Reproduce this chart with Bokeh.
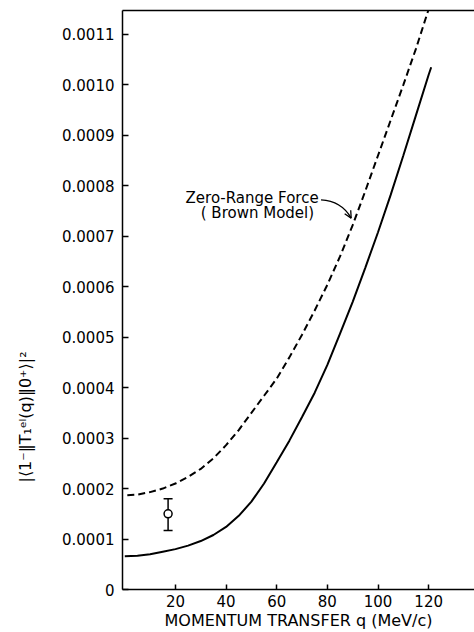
import math
from bokeh.plotting import figure
from bokeh.models import (FixedTicker, LinearAxis, Range1d, Arrow, OpenHead,
                          Whisker, TeeHead, ColumnDataSource)
from bokeh.embed import file_html
from bokeh.resources import INLINE

# ---- data ----
q_solid = [0, 5, 10, 15, 20, 25, 30, 35, 40, 45, 50, 55, 60, 65, 70, 75, 80, 85, 90, 95, 100, 105, 110, 115, 120, 121]
f_solid = [0.66e-4, 0.67e-4, 0.70e-4, 0.75e-4, 0.80e-4, 0.87e-4, 0.96e-4, 1.08e-4, 1.24e-4, 1.46e-4, 1.74e-4,
           2.10e-4, 2.52e-4, 2.95e-4, 3.42e-4, 3.90e-4, 4.45e-4, 5.07e-4, 5.70e-4, 6.38e-4, 7.08e-4, 7.82e-4,
           8.60e-4, 9.40e-4, 10.20e-4, 10.35e-4]

q_dash = [1, 5, 10, 15, 20, 25, 30, 35, 40, 45, 50, 55, 60, 65, 70, 75, 80, 85, 90, 95, 100, 105, 110, 115, 119.8]
f_dash = [1.87e-4, 1.88e-4, 1.93e-4, 2.00e-4, 2.10e-4, 2.23e-4, 2.39e-4, 2.60e-4, 2.86e-4, 3.16e-4, 3.50e-4,
          3.84e-4, 4.18e-4, 4.60e-4, 5.05e-4, 5.53e-4, 6.04e-4, 6.60e-4, 7.22e-4, 7.90e-4, 8.60e-4, 9.30e-4,
          10.00e-4, 10.72e-4, 11.47e-4]

q_exp = [17.1]
f_exp = [1.50e-4]
f_exp_lo = [1.17e-4]
f_exp_hi = [1.80e-4]

x_ticks = [20, 40, 60, 80, 100, 120]
y_ticks = [0, 1e-4, 2e-4, 3e-4, 4e-4, 5e-4, 6e-4, 7e-4, 8e-4, 9e-4, 10e-4, 11e-4]
y_tick_labels = ["0", "0.0001", "0.0002", "0.0003", "0.0004", "0.0005", "0.0006",
                 "0.0007", "0.0008", "0.0009", "0.0010", "0.0011"]

label_lines = ["Zero-Range Force", "( Brown Model)"]
label_x = [24, 30]
label_y = [7.75e-4, 7.46e-4]
arrow_from = (77.5, 7.72e-4)
arrow_ctrl = (85.5, 7.70e-4)
arrow_tip = (89.4, 7.36e-4)

y_title = "|⟨1⁻‖T₁ᵉˡ(q)‖0⁺⟩|²"
NBSP = "\u00a0"

FONT = "DejaVu Sans"

p = figure(width=474, height=632, output_backend="svg", toolbar_location=None,
           x_range=Range1d(-0.9, 138.1), y_range=Range1d(0, 0.0011474),
           min_border_left=122, min_border_right=0, min_border_top=10, min_border_bottom=42)
p.outline_line_color = None
p.xgrid.visible = False
p.ygrid.visible = False
p.background_fill_color = "white"

# axes
xa = p.xaxis[0]
xa.ticker = FixedTicker(ticks=x_ticks)
xa.major_tick_in = 5
xa.major_tick_out = 0
xa.minor_tick_line_color = None
xa.axis_line_width = 1.5
xa.major_tick_line_width = 1.5
xa.major_label_text_font = FONT
xa.major_label_text_font_size = "15px"
xa.major_label_text_color = "black"
xa.major_label_standoff = 5
xa.axis_label = "MOMENTUM TRANSFER q (MeV/c)"
xa.axis_label_text_font = FONT
xa.axis_label_text_font_size = "16px"
xa.axis_label_text_font_style = "normal"
xa.axis_label_text_color = "black"
xa.axis_label_standoff = 1

ya = p.yaxis[0]
ya.ticker = FixedTicker(ticks=y_ticks)
ya.major_label_overrides = {t: s for t, s in zip(y_ticks, y_tick_labels)}
ya.major_tick_in = 6
ya.major_tick_out = 0
ya.minor_tick_line_color = None
ya.axis_line_width = 1.5
ya.major_tick_line_width = 1.5
ya.major_label_text_font = FONT
ya.major_label_text_font_size = "15px"
ya.major_label_text_color = "black"
ya.major_label_standoff = 8
# title sits below the centre of the axis in the original: pad its upper end
ya.axis_label = y_title + NBSP * 46
ya.axis_label_text_font = FONT
ya.axis_label_text_font_size = "16px"
ya.axis_label_text_font_style = "normal"
ya.axis_label_text_color = "black"
ya.axis_label_standoff = 24

top = LinearAxis(ticker=FixedTicker(ticks=[]), major_label_text_font_size="0px",
                 major_tick_line_color=None, minor_tick_line_color=None, axis_line_width=1.5)
p.add_layout(top, "above")

# curves
p.line(q_dash, f_dash, line_color="black", line_width=2, line_dash="7 4")
p.line(q_solid, f_solid, line_color="black", line_width=2)

# experimental point
src = ColumnDataSource(dict(q=q_exp, f=f_exp, lo=f_exp_lo, hi=f_exp_hi))
p.add_layout(Whisker(source=src, base="q", lower="lo", upper="hi", line_width=1.5,
                     upper_head=TeeHead(size=9, line_width=1.5),
                     lower_head=TeeHead(size=9, line_width=1.5)))
p.scatter("q", "f", source=src, marker="circle", size=8, fill_color="white",
          line_color="black", line_width=1.5)

# annotation
p.text(label_x, label_y, text=label_lines, text_font_size="15px", text_align="left",
       text_baseline="middle", text_color="black", text_font={"value": FONT})
p.quadratic(x0=[arrow_from[0]], y0=[arrow_from[1]], x1=[arrow_tip[0]], y1=[arrow_tip[1]],
            cx=[arrow_ctrl[0]], cy=[arrow_ctrl[1]], line_color="black", line_width=1.3)
p.add_layout(Arrow(x_start=arrow_ctrl[0], y_start=arrow_ctrl[1], x_end=arrow_tip[0], y_end=arrow_tip[1],
                   line_alpha=0, end=OpenHead(size=7, line_width=1.3)))

open("out.html", "w").write(file_html(p, INLINE))
